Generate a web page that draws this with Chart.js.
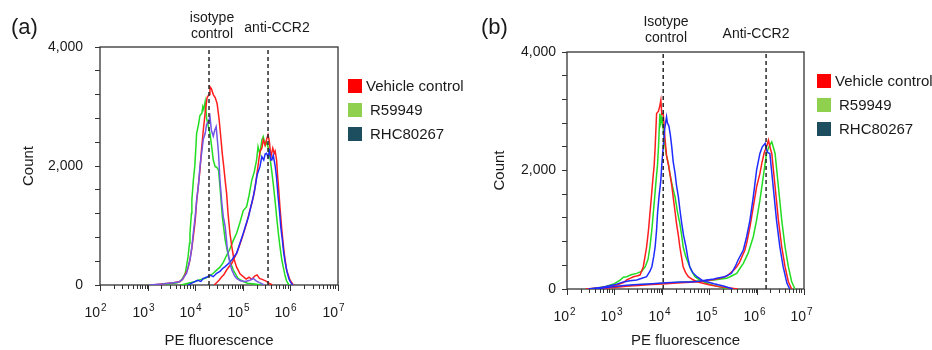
<!DOCTYPE html>
<html>
<head>
<meta charset="utf-8">
<script src="https://cdn.jsdelivr.net/npm/chart.js@4.4.1/dist/chart.umd.min.js"></script>
<style>
  body { margin: 0; background: #fff; font-family: 'Liberation Sans', Arial, sans-serif; color: #1a1a1a; }
  #wrap { position: relative; width: 932px; height: 350px; overflow: hidden; }
  .panel { position: absolute; top: 0; width: 466px; height: 350px; }
  .panel canvas { position: absolute; left: 0; top: 0; }
  .txt { position: absolute; white-space: nowrap; line-height: 1; }
  .tag { font-size: 22px; }
  .note { font-size: 14px; line-height: 16px; text-align: center; transform: translateX(-50%); }
  .leg { position: absolute; font-size: 15px; }
  .leg div { position: relative; height: 24px; line-height: 24px; padding-left: 18px; white-space: nowrap; }
  .leg div.ind { padding-left: 22px; }
  .leg i { position: absolute; left: 0; top: 5px; width: 14px; height: 14px; }
</style>
</head>
<body>
<div id="wrap">
  <div class="panel" style="left:0">
    <canvas id="chartA" width="466" height="350"></canvas>
    <div class="txt tag" style="left:11px;top:16px">(a)</div>
    <div class="txt note" style="left:212px;top:9px">isotype<br>control</div>
    <div class="txt note" style="left:277px;top:19px">anti-CCR2</div>
    <div class="leg" style="left:348px;top:74px">
      <div><i style="background:#ff0000"></i>Vehicle control</div>
      <div class="ind"><i style="background:#8fd14f"></i>R59949</div>
      <div class="ind"><i style="background:#1d4e5f"></i>RHC80267</div>
    </div>
  </div>
  <div class="panel" style="left:466px">
    <canvas id="chartB" width="466" height="350"></canvas>
    <div class="txt tag" style="left:15px;top:16px">(b)</div>
    <div class="txt note" style="left:200px;top:13px">Isotype<br>control</div>
    <div class="txt note" style="left:290px;top:25px">Anti-CCR2</div>
    <div class="leg" style="left:351px;top:69px">
      <div><i style="background:#ff0000"></i>Vehicle control</div>
      <div class="ind"><i style="background:#8fd14f"></i>R59949</div>
      <div class="ind"><i style="background:#1d4e5f"></i>RHC80267</div>
    </div>
  </div>
</div>
<script>
const FONT = "'Liberation Sans', Arial, sans-serif";
const DECADES = [2, 3, 4, 5, 6, 7];

// [log10(PE fluorescence), count]
// panel (a)
const isoVehA = [[3.10,0],[3.35,20],[3.55,40],[3.68,60],[3.74,100],[3.79,180],[3.85,280],[3.89,430],[3.93,620],[3.96,812],[4.00,1080],[4.03,1400],[4.07,1700],[4.10,1933],[4.13,2250],[4.17,2600],[4.21,2900],[4.25,3150],[4.29,3200],[4.31,3333],[4.34,3300],[4.38,3200],[4.42,3150],[4.46,3050],[4.50,2800],[4.53,2550],[4.57,2200],[4.60,1990],[4.63,1750],[4.66,1540],[4.69,1200],[4.73,870],[4.77,640],[4.81,450],[4.87,300],[4.94,190],[5.01,140],[5.07,100],[5.13,130],[5.19,95],[5.25,150],[5.30,170],[5.35,110],[5.42,90],[5.50,60],[5.56,25],[5.62,0]];
const isoR59A = [[3.20,0],[3.45,20],[3.60,35],[3.68,56],[3.74,120],[3.79,197],[3.82,330],[3.85,476],[3.88,700],[3.89,869],[3.92,1200],[3.93,1429],[3.96,1750],[3.99,1989],[4.01,2250],[4.03,2550],[4.07,2700],[4.10,2850],[4.14,2886],[4.16,3000],[4.18,2950],[4.21,3081],[4.24,2800],[4.28,2650],[4.31,2550],[4.35,2300],[4.38,2101],[4.42,1990],[4.45,1980],[4.49,1933],[4.52,1652],[4.57,1148],[4.63,756],[4.70,476],[4.80,252],[4.90,112],[5.01,56],[5.10,30],[5.25,15],[5.40,0]];
const isoRhcA = [[3.05,0],[3.30,15],[3.50,35],[3.65,50],[3.72,80],[3.77,140],[3.82,197],[3.85,300],[3.89,420],[3.93,640],[3.96,869],[4.00,1150],[4.03,1429],[4.07,1700],[4.10,1989],[4.14,2250],[4.17,2450],[4.21,2550],[4.24,2700],[4.28,2750],[4.31,2830],[4.34,2600],[4.38,2500],[4.41,2600],[4.44,2661],[4.47,2400],[4.49,2214],[4.52,1765],[4.56,1373],[4.59,1150],[4.63,980],[4.67,644],[4.72,400],[4.77,252],[4.83,150],[4.87,112],[4.95,70],[5.05,60],[5.15,80],[5.22,110],[5.28,70],[5.35,40],[5.45,0]];
const antiVehA = [[4.40,0],[4.50,80],[4.55,130],[4.60,170],[4.66,252],[4.72,320],[4.77,365],[4.82,450],[4.87,533],[4.92,640],[4.97,756],[5.02,880],[5.08,1037],[5.13,1200],[5.19,1373],[5.24,1550],[5.29,1821],[5.32,2000],[5.36,2241],[5.40,2300],[5.43,2437],[5.47,2350],[5.50,2450],[5.53,2521],[5.56,2400],[5.59,2150],[5.63,2300],[5.66,2214],[5.68,2250],[5.71,2101],[5.73,1850],[5.75,1652],[5.78,1316],[5.82,924],[5.87,533],[5.92,252],[5.99,84],[6.06,0]];
const antiR59A = [[3.70,0],[3.85,30],[4.00,60],[4.10,90],[4.20,110],[4.28,140],[4.38,197],[4.45,250],[4.52,300],[4.59,380],[4.66,500],[4.72,588],[4.80,750],[4.87,869],[4.94,1050],[5.01,1250],[5.08,1316],[5.13,1500],[5.19,1765],[5.24,1900],[5.29,2101],[5.32,2325],[5.36,2200],[5.40,2437],[5.43,2493],[5.47,2350],[5.50,2400],[5.53,2325],[5.57,2150],[5.61,1900],[5.64,1700],[5.68,1400],[5.71,1150],[5.75,850],[5.78,650],[5.82,420],[5.85,300],[5.89,150],[5.92,70],[5.97,0]];
const antiRhcA = [[3.85,0],[3.95,40],[4.05,80],[4.12,60],[4.17,112],[4.24,130],[4.31,168],[4.38,140],[4.45,197],[4.52,230],[4.58,280],[4.63,308],[4.70,360],[4.77,420],[4.82,480],[4.87,533],[4.94,700],[5.01,869],[5.06,1000],[5.12,1148],[5.17,1316],[5.22,1484],[5.26,1650],[5.30,1850],[5.36,1989],[5.40,2157],[5.44,2100],[5.47,2200],[5.50,2214],[5.53,2150],[5.56,2250],[5.59,2100],[5.61,2101],[5.64,2180],[5.68,2000],[5.71,1800],[5.74,1500],[5.77,1250],[5.80,960],[5.83,760],[5.86,540],[5.89,380],[5.93,220],[5.97,100],[6.01,40],[6.05,0]];
const markersA = [4.29, 5.53];

// panel (b)
const isoVehB = [[2.40,0],[2.70,20],[2.91,50],[3.05,67],[3.19,110],[3.26,152],[3.33,180],[3.40,207],[3.47,220],[3.54,236],[3.61,376],[3.68,713],[3.72,1000],[3.75,1276],[3.78,1550],[3.81,1838],[3.84,2100],[3.86,2399],[3.89,2962],[3.93,3000],[3.96,3100],[3.98,3186],[4.00,2950],[4.03,2962],[4.07,2512],[4.10,2250],[4.14,2100],[4.17,1951],[4.21,1750],[4.24,1556],[4.28,1300],[4.31,1108],[4.35,900],[4.38,713],[4.42,520],[4.45,376],[4.50,280],[4.56,207],[4.65,160],[4.74,123],[4.85,100],[5.02,67],[5.20,40],[5.40,20],[5.60,0]];
const isoR59B = [[2.50,0],[2.80,40],[3.00,90],[3.12,150],[3.19,200],[3.26,207],[3.35,240],[3.47,264],[3.58,300],[3.65,376],[3.71,500],[3.75,713],[3.79,1000],[3.82,1276],[3.85,1550],[3.88,1838],[3.91,2100],[3.93,2399],[3.96,2962],[3.98,2800],[4.00,2900],[4.03,2700],[4.07,2399],[4.10,2250],[4.14,2100],[4.17,1951],[4.22,1750],[4.28,1556],[4.33,1300],[4.38,1108],[4.42,900],[4.45,713],[4.50,560],[4.56,433],[4.63,300],[4.70,207],[4.80,150],[4.88,123],[5.00,80],[5.20,40],[5.40,0]];
const isoRhcB = [[2.45,0],[2.75,30],[3.00,70],[3.19,120],[3.33,140],[3.47,152],[3.58,180],[3.68,207],[3.75,300],[3.79,376],[3.83,550],[3.86,713],[3.89,1000],[3.91,1276],[3.94,1550],[3.98,1838],[4.00,2100],[4.03,2399],[4.06,2700],[4.10,2905],[4.12,2800],[4.15,2750],[4.18,2600],[4.21,2399],[4.24,2150],[4.28,1951],[4.31,1750],[4.35,1556],[4.38,1350],[4.42,1108],[4.46,900],[4.51,713],[4.55,520],[4.59,376],[4.65,280],[4.74,207],[4.85,150],[4.95,123],[5.10,90],[5.30,50],[5.50,0]];
const antiVehB = [[2.70,0],[2.90,20],[3.10,35],[3.30,50],[3.50,60],[3.70,70],[3.90,80],[4.10,90],[4.30,100],[4.50,110],[4.70,120],[4.90,140],[5.10,160],[5.23,180],[5.37,220],[5.44,265],[5.53,330],[5.58,376],[5.64,450],[5.69,545],[5.75,650],[5.79,770],[5.86,1050],[5.93,1388],[6.00,1725],[6.07,1950],[6.11,2119],[6.16,2300],[6.21,2400],[6.25,2512],[6.28,2400],[6.32,2288],[6.39,1725],[6.46,1163],[6.53,713],[6.60,376],[6.67,123],[6.74,0]];
const antiR59B = [[2.60,0],[2.85,25],[3.10,45],[3.30,55],[3.50,70],[3.70,80],[3.90,90],[4.10,100],[4.30,110],[4.50,120],[4.70,130],[4.90,140],[5.10,150],[5.25,170],[5.37,180],[5.47,220],[5.58,265],[5.65,350],[5.72,433],[5.82,601],[5.93,882],[6.00,1163],[6.07,1500],[6.14,1894],[6.21,2288],[6.26,2400],[6.32,2484],[6.35,2400],[6.39,2288],[6.46,1725],[6.53,1163],[6.60,713],[6.67,376],[6.74,123],[6.81,0]];
const antiRhcB = [[2.60,0],[2.80,20],[3.00,40],[3.20,60],[3.40,70],[3.60,80],[3.80,90],[4.00,100],[4.20,110],[4.40,120],[4.60,120],[4.80,130],[4.95,152],[5.10,170],[5.16,180],[5.33,207],[5.47,265],[5.55,380],[5.61,489],[5.72,658],[5.79,882],[5.86,1163],[5.93,1556],[6.00,2006],[6.07,2288],[6.12,2400],[6.18,2456],[6.21,2350],[6.24,2300],[6.28,2288],[6.35,1725],[6.42,1163],[6.49,713],[6.56,376],[6.64,96],[6.70,0]];
const markersB = [4.03, 6.20];

const C_RED = '#ff1e1e', C_GREEN = '#22dd22', C_BLUE = '#1f2cff', C_PURPLE = '#7356e6';

// caja del grafico + ticks de decada con etiquetas 10^n
const axisDeco = {
  id: 'axisDeco',
  beforeDatasetsDraw(chart) {
    const { ctx, chartArea: a } = chart;
    ctx.save();
    ctx.strokeStyle = '#333';
    ctx.lineWidth = 1.3;
    ctx.strokeRect(a.left, a.top, a.right - a.left, a.bottom - a.top);
    ctx.restore();
  },
  afterDraw(chart, args, opts) {
    const { ctx, chartArea: a, scales: { x } } = chart;
    ctx.save();
    ctx.strokeStyle = '#333';
    ctx.fillStyle = '#1a1a1a';
    ctx.lineWidth = 1;
    ctx.textAlign = 'left';
    ctx.textBaseline = 'alphabetic';
    DECADES.forEach(d => {
      const px = Math.round(x.getPixelForValue(d)) + 0.5;
      ctx.beginPath(); ctx.moveTo(px, a.bottom); ctx.lineTo(px, a.bottom + 6); ctx.stroke();
      ctx.font = `14px ${FONT}`;
      const w1 = ctx.measureText('10').width;
      ctx.font = `10px ${FONT}`;
      const w2 = ctx.measureText(String(d)).width;
      const sx = px + opts.dx - (w1 + w2 + 1) / 2;
      ctx.font = `14px ${FONT}`;
      ctx.fillText('10', sx, a.bottom + opts.dy);
      ctx.font = `10px ${FONT}`;
      ctx.fillText(String(d), sx + w1 + 1, a.bottom + opts.dy - 6);
    });
    ctx.restore();
  }
};

function logTicks() {
  const t = [];
  for (let n = 2; n < 7; n++) for (let k = 1; k <= 9; k++) t.push({ value: n + Math.log10(k) });
  t.push({ value: 7 });
  return t;
}

function trace(arr, color, w = 1.5) {
  return { data: arr.map(([x, y]) => ({ x, y })), borderColor: color, borderWidth: w, showLine: true, pointRadius: 0, tension: 0 };
}

function marker(v) {
  return { data: [{ x: v, y: 0 }, { x: v, y: 4000 }], borderColor: '#2a2a2a', borderWidth: 1.5, borderDash: [4, 3], showLine: true, pointRadius: 0 };
}

function makeChart(id, lay, sets, markers) {
  new Chart(document.getElementById(id), {
    type: 'scatter',
    data: { datasets: [...markers.map(marker), ...sets] },
    plugins: [axisDeco],
    options: {
      responsive: false,
      animation: false,
      layout: { padding: { left: 0, right: 128, top: lay.top, bottom: 0 } },
      plugins: { legend: { display: false }, tooltip: { enabled: false }, axisDeco: { dx: lay.dx, dy: 32 } },
      scales: {
        x: {
          type: 'linear', min: 2, max: 7,
          afterBuildTicks: s => { s.ticks = logTicks(); },
          afterFit: s => { s.height = lay.xh; },
          grid: { drawOnChartArea: false, tickLength: 4, color: '#333' },
          border: { display: false },
          ticks: { display: false },
          title: { display: true, text: 'PE fluorescence', font: { family: FONT, size: 15 }, color: '#1a1a1a', padding: { top: 0, bottom: 0 } }
        },
        y: {
          min: 0, max: 4000,
          afterFit: s => { s.width = lay.yw; },
          grid: { drawOnChartArea: false, tickLength: 5, color: '#333' },
          border: { display: false },
          ticks: { stepSize: 400, padding: lay.pad, font: { family: FONT, size: 14 }, color: '#1a1a1a',
                   callback: v => v % 2000 === 0 ? v.toLocaleString('en-US') : '' },
          title: { display: true, text: 'Count', font: { family: FONT, size: 15 }, color: '#1a1a1a', padding: { top: lay.tp, bottom: 0 } }
        }
      }
    }
  });
}

makeChart('chartA', { top: 47, xh: 65, yw: 100, pad: 12, tp: 20, dx: -5 }, [
  trace(isoRhcA, C_PURPLE), trace(antiRhcA, C_BLUE),
  trace(isoVehA, C_RED), trace(antiVehA, C_RED),
  trace(isoR59A, C_GREEN), trace(antiR59A, C_GREEN)
], markersA);

makeChart('chartB', { top: 52, xh: 61, yw: 101, pad: 6, tp: 25, dx: -3 }, [
  trace(isoRhcB, C_BLUE), trace(antiRhcB, C_BLUE),
  trace(isoVehB, C_RED), trace(antiVehB, C_RED),
  trace(isoR59B, C_GREEN), trace(antiR59B, C_GREEN)
], markersB);
</script>
</body>
</html>
